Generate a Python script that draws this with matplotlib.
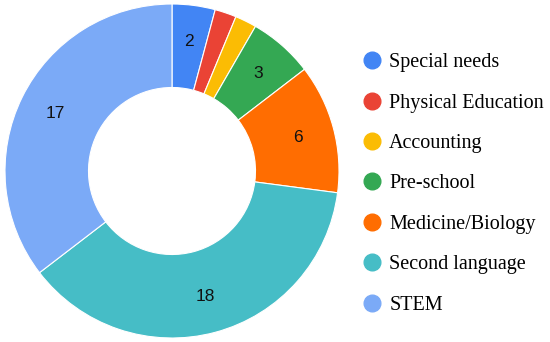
import matplotlib.pyplot as plt
from matplotlib.lines import Line2D

subjects = ['Special needs', 'Physical Education', 'Accounting', 'Pre-school',
            'Medicine/Biology', 'Second language', 'STEM']
counts = [2, 1, 1, 3, 6, 18, 17]
colors = ['#4285F4', '#EA4335', '#FBBC04', '#34A853', '#FF6D01', '#46BDC6', '#7BAAF7']

fig = plt.figure(figsize=(5.5, 3.42), dpi=100)
ax = fig.add_axes([5 / 550, 4 / 342, 334 / 550, 334 / 342])

total = sum(counts)


def label(pct):
    v = round(pct * total / 100)
    return str(v) if v >= 2 else ''


wedges, _, autotexts = ax.pie(counts, colors=colors, startangle=90, counterclock=False,
                              radius=1, autopct=label, pctdistance=0.78,
                              wedgeprops=dict(width=0.5, edgecolor='white', linewidth=0.8))
for t in autotexts:
    t.set_fontfamily('Liberation Sans')
    t.set_fontsize(12.5)
    t.set_color('#111111')
ax.set_xlim(-1, 1)
ax.set_ylim(-1, 1)
ax.set_aspect('equal')

handles = [Line2D([], [], marker='o', linestyle='', markersize=12,
                  markerfacecolor=c, markeredgecolor=c) for c in colors]
fig.legend(handles, subjects, loc='upper left', bbox_to_anchor=(354 / 550, 1 - 45 / 342),
           frameon=False, prop=dict(family='Liberation Serif', size=14.5),
           labelspacing=1.06, handletextpad=0.35, handlelength=1.0, borderaxespad=0,
           borderpad=0.4)

fig.savefig('out.png', dpi=100)
